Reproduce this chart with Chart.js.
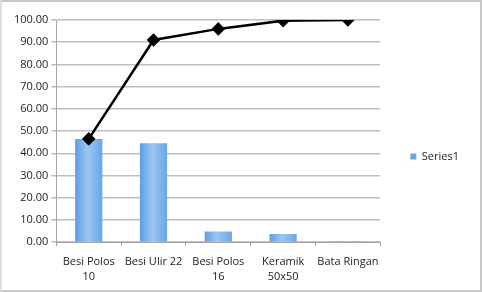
<!DOCTYPE html>
<html>
<head>
<meta charset="utf-8">
<script src="https://cdn.jsdelivr.net/npm/chart.js@4/dist/chart.umd.min.js"></script>
<style>
  html, body { margin: 0; padding: 0; background: #fff; }
  #wrap { position: relative; width: 482px; height: 292px; box-sizing: border-box; border: 2px solid #c8c8c8; border-left-color: #e0e0e0; }
  canvas { display: block; }
</style>
</head>
<body>
<div id="wrap"><canvas id="paretoChart" width="478" height="288"></canvas></div>
<script>
var categories = [["Besi Polos", "10"], "Besi Ulir 22", ["Besi Polos", "16"], ["Keramik", "50x50"], "Bata Ringan"];
var barValues = [46.5, 44.5, 4.8, 3.7, 0.5];
var cumulative = [46.5, 91.0, 96.0, 99.7, 100.0];
var yTicks = [0, 10, 20, 30, 40, 50, 60, 70, 80, 90, 100];

var font = { family: "'Open Sans', 'Noto Sans', sans-serif", size: 11 };

function barFill(ctx) {
    var el = ctx.element;
    if (!el || !el.width) return "#7db0ea";
    var c = ctx.chart.ctx;
    var g = c.createLinearGradient(el.x - el.width / 2, 0, el.x + el.width / 2, 0);
    g.addColorStop(0, "#5d9de6");
    g.addColorStop(0.45, "#9cc6f2");
    g.addColorStop(1, "#6aa5e8");
    return g;
}

var chart = new Chart("paretoChart", {
    type: "bar",
    data: {
        labels: categories,
        datasets: [{
            type: "line",
            label: "Cumulative",
            data: cumulative,
            borderColor: "#000",
            backgroundColor: "#000",
            borderWidth: 2.5,
            pointStyle: "rectRot",
            pointRadius: 5,
            pointHoverRadius: 5,
            tension: 0,
            order: 0
        }, {
            label: "Series1",
            data: barValues,
            backgroundColor: barFill,
            borderWidth: 0,
            barPercentage: 0.42,
            categoryPercentage: 1,
            order: 1
        }]
    },
    options: {
        responsive: false,
        animation: false,
        layout: { padding: { top: 18, right: 11, bottom: -3, left: 9 } },
        plugins: {
            legend: {
                position: "right",
                labels: {
                    font: font,
                    color: "#222",
                    boxWidth: 6,
                    boxHeight: 6,
                    padding: 30,
                    filter: function (item) { return item.text === "Series1"; }
                }
            },
            tooltip: { enabled: false }
        },
        scales: {
            x: {
                grid: { display: true, drawOnChartArea: false, offset: true, color: "#a6a6a6", tickLength: 4 },
                border: { color: "#a6a6a6" },
                ticks: {
                    font: { family: font.family, size: 11, lineHeight: 1.4 },
                    color: "#222", maxRotation: 0, autoSkip: false, padding: 8
                }
            },
            y: {
                min: 0,
                max: 100,
                afterBuildTicks: function (axis) { axis.ticks = yTicks.map(function (v) { return { value: v }; }); },
                grid: { color: "#bfbfbf", lineWidth: 1.5, tickLength: 5 },
                border: { color: "#a6a6a6" },
                ticks: {
                    font: font,
                    color: "#222",
                    callback: function (v) { return v.toFixed(2); }
                }
            }
        }
    }
});
chart.update();
</script>
</body>
</html>
